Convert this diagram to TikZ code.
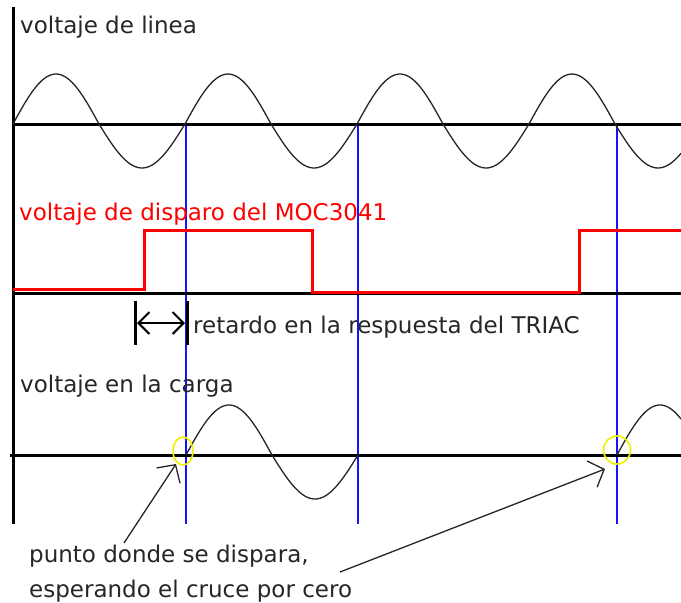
\documentclass[tikz,border=0pt]{standalone}
\usepackage{fontspec}
\setmainfont{DejaVu Sans}
\usetikzlibrary{arrows.meta,shapes.geometric}
\definecolor{sigred}{RGB}{255,0,0}
\definecolor{guideblue}{RGB}{20,20,255}
\definecolor{ringyellow}{RGB}{240,240,0}
\begin{document}
\begin{tikzpicture}[x=1pt,y=-1pt,
  declare function={w(\t)=47*sin(\t)+3*abs(sin(\t));},
  axis/.style={line width=3pt},
  wave/.style={line width=1.3pt,black!85},
  guide/.style={line width=2pt,guideblue},
  trig/.style={line width=3pt,sigred},
  lbl/.style={anchor=base west,inner sep=0pt,font=\fontsize{23}{27}\selectfont,text=black!85},
  ring/.style={ellipse,draw=ringyellow,line width=1.6pt,inner sep=0pt},
  pointer/.style={line width=1.3pt,black!85,-{Straight Barb[length=13pt,width=28pt,line width=1.3pt]}},
  delay/.style={line width=2pt,{Straight Barb[length=11pt,width=22pt,line width=2pt]}-{Straight Barb[length=11pt,width=22pt,line width=2pt]}},
  bar/.style={line width=3pt}]
\useasboundingbox (0,0) rectangle (681,603);
\fill[white] (0,0) rectangle (681,603);
% guides
\coordinate (g1t) at (186,124); \coordinate (g1b) at (186,524);
\coordinate (g2t) at (358,124); \coordinate (g2b) at (358,524);
\coordinate (g3t) at (617,124); \coordinate (g3b) at (617,524);
\draw[guide] (g1t) -- (g1b);
\draw[guide] (g2t) -- (g2b);
\draw[guide] (g3t) -- (g3b);
% axes
\coordinate (vt) at (13,7); \coordinate (vb) at (13,524);
\draw[axis] (vt) -- (vb);
\coordinate (a1l) at (13,124); \coordinate (a1r) at (681,124);
\draw[axis] (a1l) -- (a1r);
\coordinate (a2l) at (13,293); \coordinate (a2r) at (681,293);
\draw[axis] (a2l) -- (a2r);
\coordinate (a3l) at (10,455); \coordinate (a3r) at (681,455);
\draw[axis] (a3l) -- (a3r);
% line voltage
\draw[wave] plot[domain=13:681,samples=240,smooth] (\x,{124-w((\x-13)/172*360)});
% load voltage
\draw[wave] plot[domain=186:358,samples=80,smooth] (\x,{455-w((\x-186)/172*360)});
\draw[wave] plot[domain=617:681,samples=40,smooth] (\x,{455-w((\x-617)/172*360)});
% trigger signal
\draw[trig] (13,289) -- (144,289) -- (144,230) -- (312,230) -- (312,292) -- (579,292) -- (579,230) -- (681,230);
% labels
\node[lbl] (t1) at (20,33) {voltaje de linea};
\node[lbl,text=sigred] (t2) at (19,220) {voltaje de disparo del MOC3041};
\node[lbl] (t3) at (193,333) {retardo en la respuesta del TRIAC};
\node[lbl] (t4) at (20,392) {voltaje en la carga};
\node[lbl] (t5) at (29,562) {punto donde se dispara,};
\node[lbl] (t6) at (29,597) {esperando el cruce por cero};
% delay bracket
\coordinate (b1t) at (135,301); \coordinate (b1b) at (135,345);
\coordinate (b2t) at (187,301); \coordinate (b2b) at (187,345);
\draw[bar] (b1t) -- (b1b);
\draw[bar] (b2t) -- (b2b);
\coordinate (d1) at (137,323); \coordinate (d2) at (185,323);
\draw[delay] (d1) -- (d2);
% rings
\node[ring,minimum width=20pt,minimum height=28pt] (e1) at (183,451) {};
\node[ring,minimum width=27pt,minimum height=28pt] (e2) at (617,450) {};
% pointers
\coordinate (p1s) at (124,543); \coordinate (p1e) at (176,464);
\coordinate (p2s) at (340,572); \coordinate (p2e) at (605,469);
\draw[pointer] (p1s) -- (p1e);
\draw[pointer] (p2s) -- (p2e);
\end{tikzpicture}
\end{document}
